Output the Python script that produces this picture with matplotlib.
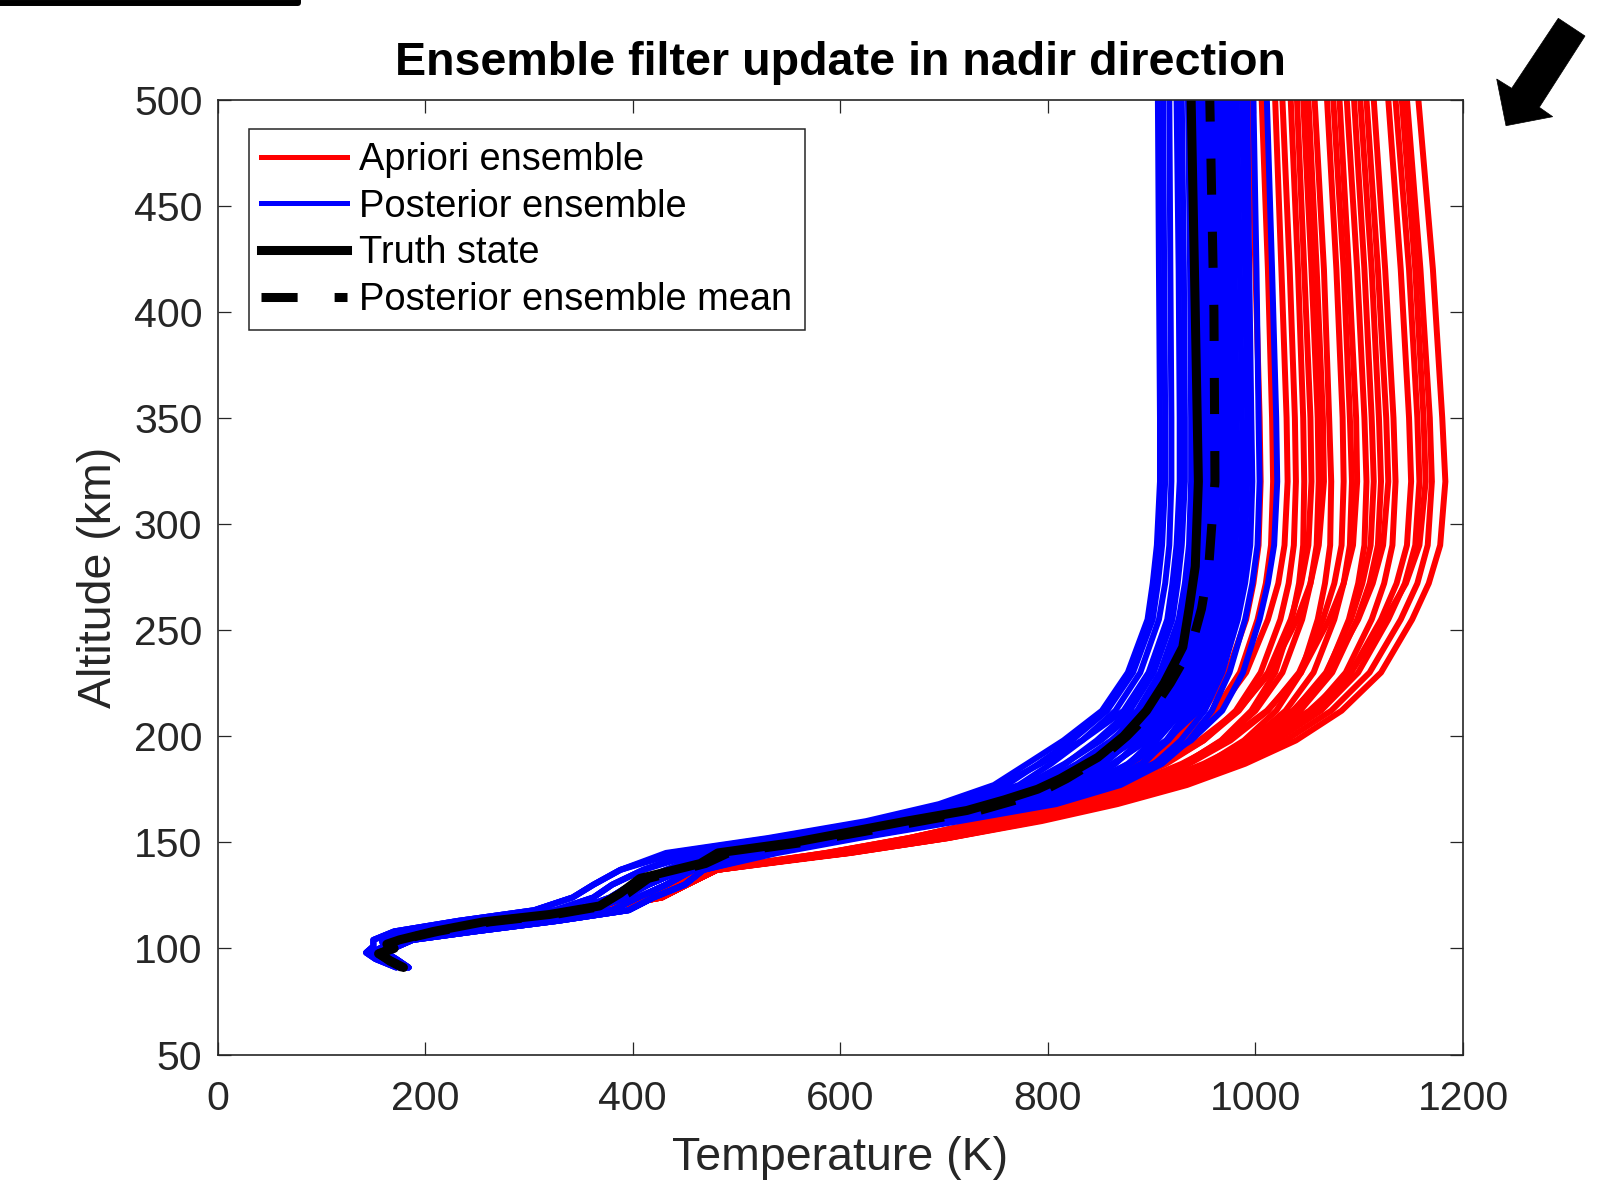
import matplotlib
matplotlib.use('Agg')
import matplotlib.pyplot as plt
from matplotlib.lines import Line2D
from matplotlib.patches import Polygon

plt.rcParams['font.family'] = ['Liberation Sans', 'DejaVu Sans']

# ---------------- data ----------------
truth_alt = [91, 94, 97.5, 100, 102, 104, 108, 112.5, 116, 120, 126, 133, 140, 145, 150,
             155, 160, 165, 170, 175, 180, 190, 200, 212, 225, 242, 260, 280, 320, 400, 500]
truth_T = [179, 167, 155, 170, 163, 175, 208, 256, 320, 368, 388, 407, 465, 482, 556,
           610, 664, 722, 758, 790, 812, 848, 873, 895, 912, 930, 936, 942, 945, 942, 938]
mean_T = [178, 166, 156, 168, 164, 176, 212, 262, 325, 372, 395, 415, 470, 492, 565,
          622, 678, 734, 770, 798, 818, 852, 876, 900, 918, 938, 948, 955, 961, 960, 956]

low_alt = [91, 95, 98, 101, 104, 108, 113, 118, 124, 130, 137]
up_alt = [145, 152, 160, 168, 177, 187, 198, 212, 230, 255, 272, 290, 320, 350, 420, 500]

apriori_low = [
    [180, 165, 156, 167, 172, 206, 266, 345, 410, 440, 470],
    [178, 164, 155, 166, 174, 209, 270, 352, 420, 447, 476],
    [181, 166, 157, 168, 175, 212, 274, 360, 428, 452, 481],
]
apriori_up = [
    [588, 667, 739, 796, 846, 888, 921, 950, 973, 991, 998, 1003, 1005, 1004, 1000, 995],
    [591, 672, 745, 804, 855, 897, 931, 961, 985, 1002, 1010, 1015, 1017, 1016, 1012, 1006],
    [587, 666, 740, 798, 850, 894, 931, 964, 991, 1012, 1022, 1028, 1031, 1030, 1025, 1019],
    [595, 680, 756, 817, 870, 914, 950, 981, 1005, 1024, 1032, 1037, 1039, 1038, 1033, 1026],
    [605, 693, 774, 835, 889, 932, 967, 996, 1019, 1035, 1042, 1046, 1047, 1046, 1041, 1034],
    [592, 674, 751, 811, 866, 912, 950, 984, 1012, 1034, 1044, 1051, 1054, 1053, 1047, 1040],
    [600, 688, 767, 830, 885, 931, 968, 1000, 1026, 1045, 1053, 1059, 1061, 1060, 1054, 1046],
    [586, 666, 741, 802, 858, 905, 946, 983, 1014, 1040, 1053, 1061, 1066, 1065, 1059, 1051],
    [610, 703, 787, 852, 908, 953, 989, 1020, 1044, 1060, 1067, 1072, 1073, 1071, 1066, 1057],
    [598, 685, 766, 830, 888, 936, 976, 1012, 1042, 1065, 1076, 1083, 1085, 1084, 1078, 1069],
    [607, 699, 783, 850, 908, 956, 995, 1029, 1056, 1076, 1085, 1091, 1093, 1091, 1085, 1075],
    [593, 677, 756, 821, 879, 929, 972, 1011, 1044, 1071, 1085, 1094, 1098, 1097, 1090, 1081],
    [610, 704, 790, 858, 918, 967, 1007, 1042, 1069, 1090, 1099, 1105, 1107, 1105, 1098, 1088],
    [604, 695, 779, 846, 906, 957, 999, 1037, 1068, 1092, 1103, 1111, 1114, 1112, 1105, 1095],
    [605, 697, 782, 850, 911, 962, 1005, 1043, 1074, 1098, 1110, 1118, 1121, 1119, 1112, 1101],
    [598, 686, 769, 837, 898, 950, 995, 1036, 1071, 1099, 1113, 1123, 1128, 1126, 1118, 1107],
    [608, 702, 789, 858, 921, 973, 1016, 1055, 1087, 1112, 1124, 1132, 1135, 1133, 1125, 1114],
    [602, 694, 780, 849, 913, 967, 1013, 1056, 1092, 1121, 1136, 1146, 1150, 1148, 1140, 1128],
    [604, 696, 783, 854, 918, 973, 1020, 1063, 1099, 1128, 1144, 1154, 1158, 1156, 1148, 1135],
    [596, 684, 768, 838, 901, 958, 1006, 1052, 1092, 1125, 1145, 1158, 1164, 1162, 1154, 1141],
    [606, 700, 789, 860, 926, 982, 1029, 1073, 1110, 1140, 1156, 1166, 1170, 1168, 1159, 1146],
    [608, 704, 794, 867, 934, 990, 1039, 1083, 1121, 1151, 1167, 1178, 1183, 1180, 1171, 1157],
]

posterior_low = [
    [172, 152, 143, 150, 150, 170, 232, 305, 342, 362, 388],
    [175, 158, 148, 160, 158, 182, 248, 325, 362, 380, 410],
    [178, 163, 153, 166, 163, 195, 262, 345, 378, 398, 432],
    [180, 166, 156, 170, 168, 205, 275, 360, 392, 415, 448],
    [182, 169, 158, 172, 176, 222, 300, 380, 405, 432, 458],
    [184, 172, 162, 174, 188, 248, 328, 396, 420, 450, 468],
]
posterior_low_id = [0, 0, 1, 0, 1, 1, 2, 2, 3, 2, 3, 3, 4, 3, 4, 4, 3, 4, 5, 5, 4, 5, 5, 5]
posterior_up = [
    [432, 530, 625, 695, 748, 780, 815, 852, 877, 896, 901, 905, 908, 908, 907, 906],
    [443, 539, 634, 706, 760, 791, 823, 857, 882, 901, 906, 910, 913, 913, 912, 911],
    [454, 548, 643, 718, 772, 803, 833, 865, 889, 907, 913, 917, 919, 919, 918, 917],
    [437, 534, 630, 701, 754, 793, 833, 873, 897, 915, 920, 924, 927, 927, 926, 924],
    [464, 556, 652, 729, 785, 817, 847, 879, 902, 920, 925, 929, 932, 932, 931, 929],
    [459, 552, 648, 723, 779, 816, 851, 886, 908, 926, 932, 936, 938, 938, 937, 935],
    [481, 570, 666, 746, 803, 835, 862, 890, 912, 930, 936, 940, 942, 942, 941, 939],
    [470, 561, 657, 735, 791, 828, 861, 894, 916, 934, 940, 944, 946, 946, 945, 943],
    [486, 574, 670, 752, 809, 842, 871, 899, 920, 937, 944, 948, 950, 950, 948, 946],
    [475, 565, 661, 740, 797, 836, 870, 903, 924, 941, 948, 952, 954, 954, 952, 950],
    [497, 583, 679, 763, 821, 854, 880, 905, 926, 943, 950, 954, 956, 956, 954, 952],
    [491, 578, 675, 757, 815, 851, 881, 909, 930, 947, 953, 957, 959, 959, 958, 956],
    [508, 592, 688, 774, 833, 865, 889, 912, 933, 950, 956, 960, 962, 962, 961, 958],
    [486, 574, 670, 752, 809, 849, 884, 916, 936, 952, 959, 963, 965, 965, 963, 961],
    [502, 587, 684, 769, 827, 864, 893, 920, 940, 956, 963, 967, 969, 969, 967, 965],
    [518, 600, 697, 785, 846, 878, 901, 923, 943, 959, 966, 970, 972, 972, 970, 968],
    [497, 583, 679, 763, 821, 862, 896, 926, 946, 962, 969, 973, 975, 975, 973, 970],
    [513, 596, 693, 780, 840, 877, 905, 930, 950, 966, 973, 977, 979, 978, 977, 974],
    [529, 609, 706, 797, 858, 892, 914, 935, 953, 969, 976, 981, 983, 982, 980, 978],
    [524, 605, 702, 791, 852, 890, 916, 940, 958, 974, 981, 986, 988, 987, 985, 982],
    [508, 592, 688, 774, 833, 879, 914, 945, 963, 979, 986, 990, 992, 992, 990, 987],
    [535, 614, 711, 802, 864, 903, 928, 951, 968, 983, 990, 995, 997, 996, 994, 992],
    [540, 618, 715, 808, 870, 910, 936, 958, 975, 990, 997, 1002, 1004, 1003, 1001, 998],
    [524, 605, 702, 791, 852, 902, 938, 968, 988, 1004, 1012, 1018, 1021, 1020, 1016, 1011],
]

legend_labels = ['Apriori ensemble', 'Posterior ensemble', 'Truth state',
                 'Posterior ensemble mean']
title_text = 'Ensemble filter update in nadir direction'
x_ticks = [0, 200, 400, 600, 800, 1000, 1200]
y_ticks = [50, 100, 150, 200, 250, 300, 350, 400, 450, 500]

# ---------------- styles ----------------
W, H = 1610, 1180
AX_COL = '#262626'
ENS_LW = 4.3
TRUTH_LW = 6.5
DASHES = (4.0, 4.1)

fig = plt.figure(figsize=(W / 100, H / 100), dpi=100)
ax = fig.add_axes([217.7 / W, 1 - 1054.5 / H, (1463 - 217.7) / W, (1054.5 - 99.6) / H])

member_alt = low_alt + up_alt
for i, row in enumerate(apriori_up):
    ax.plot(apriori_low[i % len(apriori_low)] + row, member_alt, color=(1, 0, 0),
            lw=ENS_LW, solid_capstyle='round', solid_joinstyle='round')
for i, row in enumerate(posterior_up):
    ax.plot(posterior_low[posterior_low_id[i]] + row, member_alt, color=(0, 0, 1),
            lw=ENS_LW, solid_capstyle='round', solid_joinstyle='round')
ax.plot(truth_T, truth_alt, color='black', lw=TRUTH_LW, solid_capstyle='round',
        solid_joinstyle='round')
ax.plot(mean_T, truth_alt, color='black', lw=TRUTH_LW, dashes=DASHES,
        dash_capstyle='butt')

ax.set_xlim(0, 1200)
ax.set_ylim(50, 500)
ax.set_xticks(x_ticks)
ax.set_yticks(y_ticks)
ax.tick_params(direction='in', length=9.4, width=0.9, color=AX_COL, labelcolor=AX_COL,
               labelsize=29.5, top=True, right=True)
ax.tick_params(axis='x', pad=18)
ax.tick_params(axis='y', pad=11)
for sp in ax.spines.values():
    sp.set_color(AX_COL)
    sp.set_linewidth(1.2)

ax.set_xlabel('Temperature (K)', fontsize=33.5, color=AX_COL, labelpad=13)
ax.set_ylabel('Altitude (km)', fontsize=33.5, color=AX_COL, labelpad=9)
ax.set_title(title_text, fontsize=33.6, fontweight='bold', color='black', pad=17.7)

handles = [
    Line2D([], [], color=(1, 0, 0), lw=3.6),
    Line2D([], [], color=(0, 0, 1), lw=3.6),
    Line2D([], [], color='black', lw=TRUTH_LW),
    Line2D([], [], color='black', lw=TRUTH_LW, dashes=DASHES, dash_capstyle='butt'),
]
leg = ax.legend(handles, legend_labels, loc='upper left',
                bbox_to_anchor=(30.8 / 1245.3, 1 - 29.8 / 954.9), borderaxespad=0,
                fontsize=27.4, frameon=True, fancybox=False, framealpha=1,
                edgecolor=AX_COL, handlelength=2.25, handletextpad=0.33,
                borderpad=0.33, labelspacing=0.28)
leg.get_frame().set_linewidth(1.1)
for t in leg.get_texts():
    t.set_color('black')

# decorations outside the axes (pixel coordinates of the figure)
def fig_xy(px, py):
    return (px / W, 1 - py / H)

arrow_px = [(1558.3, 18.3), (1585, 36), (1539.3, 107.3), (1552.7, 116.7),
            (1506, 125.7), (1496.7, 79), (1511.7, 88.3)]
fig.add_artist(Polygon([fig_xy(*p) for p in arrow_px], closed=True,
                       transform=fig.transFigure, facecolor='black',
                       edgecolor='black', lw=0.5))
box_px = [(-10, 3), (298, 3), (298, -10)]
fig.add_artist(Line2D([fig_xy(*p)[0] for p in box_px], [fig_xy(*p)[1] for p in box_px],
                      transform=fig.transFigure, color='black', lw=4.3,
                      solid_joinstyle='round'))

fig.savefig('out.png', dpi=100, facecolor='white')
